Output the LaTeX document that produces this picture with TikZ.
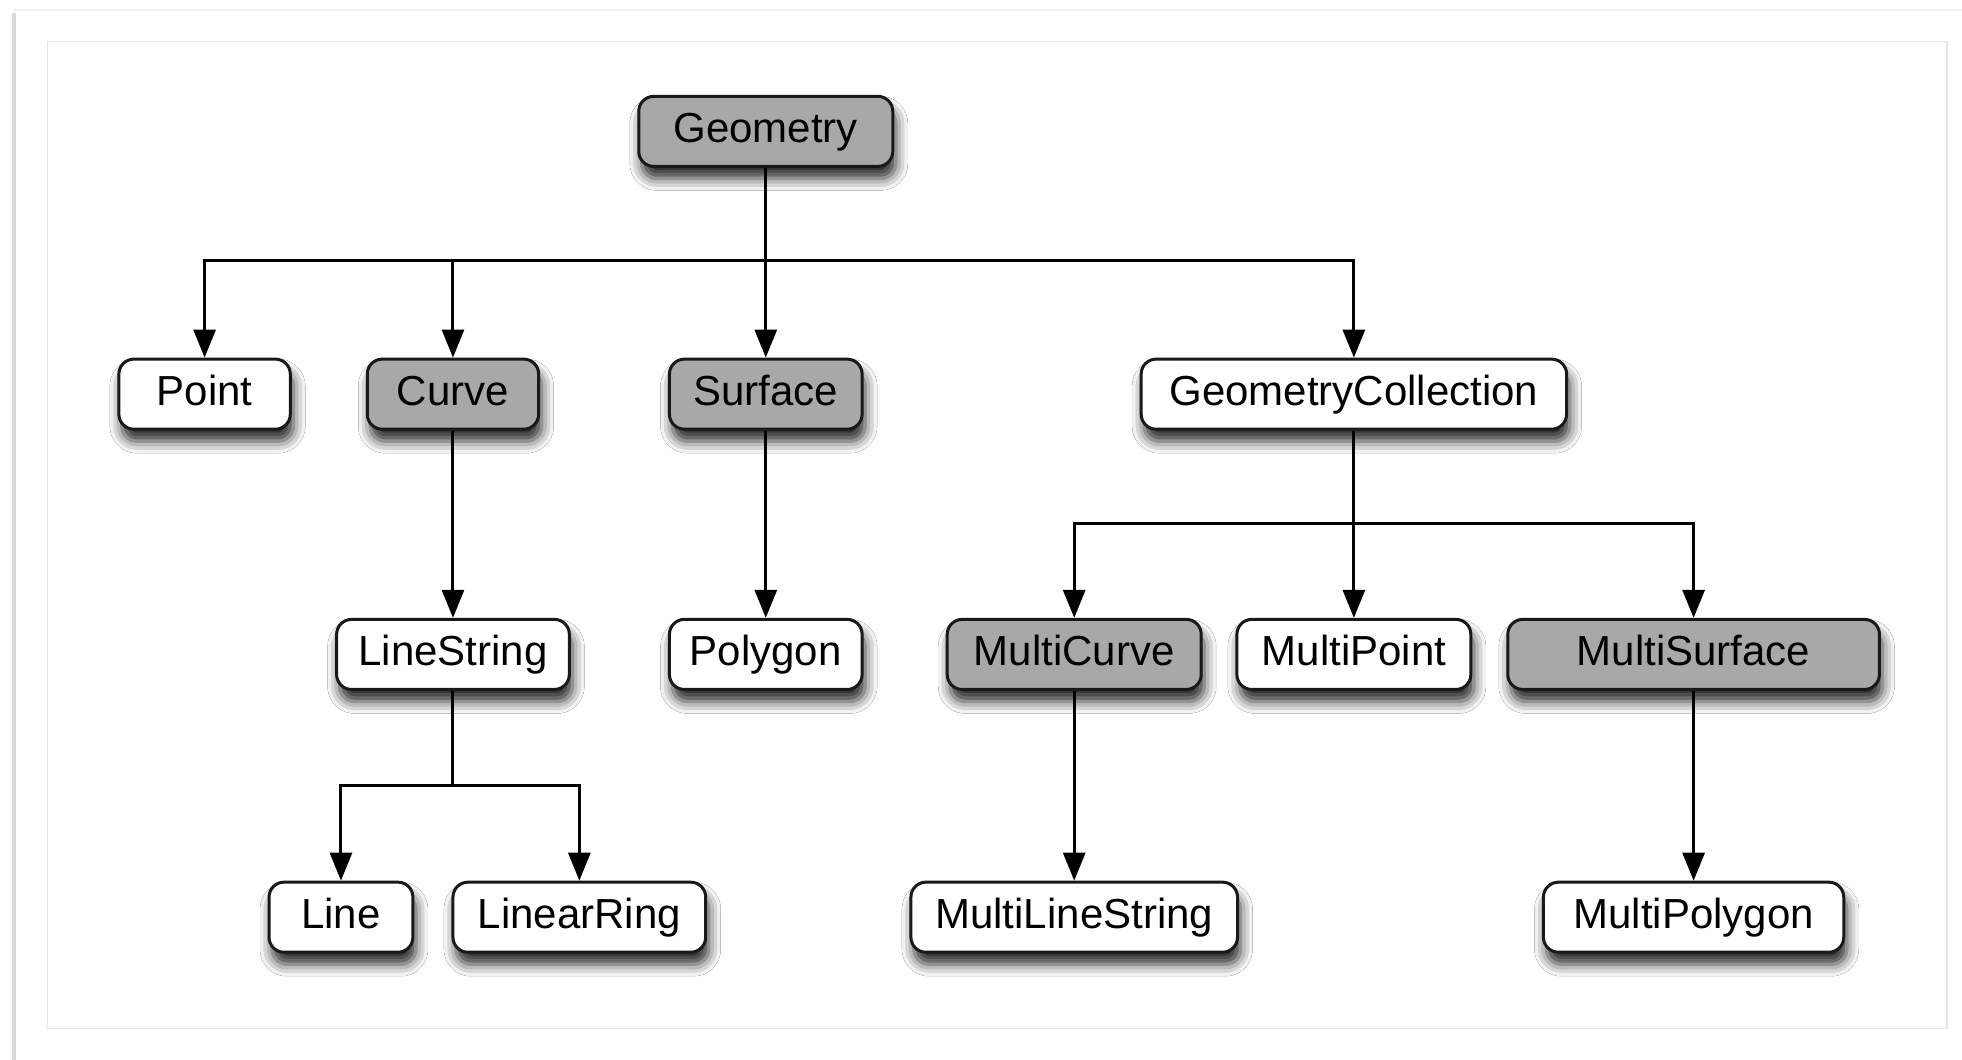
\documentclass[tikz,border=0pt]{standalone}
\usepackage{fontspec}
\setmainfont{Liberation Sans}
\usetikzlibrary{arrows.meta,shadows.blur}
\def\pxu{0.6257pt}
\definecolor{nodegray}{RGB}{168,168,168}
\definecolor{framegray}{RGB}{228,228,228}
\tikzset{
  box/.style={draw=black!90, line width=1.5pt, rounded corners=7.5pt, fill=white,
    minimum height=56*\pxu, inner sep=0pt, font=\fontsize{21}{25}\selectfont,
    text height=15pt, text depth=4pt,
    blur shadow={shadow xshift=1.5pt, shadow yshift=-6pt, shadow blur radius=6pt, shadow opacity=85}},
  gbox/.style={box, fill=nodegray},
  link/.style={line width=1.5pt, black},
  arr/.style={link, -{Triangle[width=11pt,length=14pt]}},
}
\begin{document}
\begin{tikzpicture}[x=\pxu, y=-\pxu]
\useasboundingbox (0,0) rectangle (1568,847);
\fill[white] (0,0) rectangle (1568,847);
% outer window edges
\draw[line width=3*\pxu, black!15] (11,10) -- (11,847);
\draw[line width=1.2*\pxu, black!6] (11,8) -- (1568,8);
% inner frame
\draw[line width=1.2*\pxu, framegray] (38,33) rectangle (1556,822);

% nodes
\node[gbox, minimum width=203*\pxu] (geom) at (612,105) {Geometry};

\node[box,  minimum width=137*\pxu] (point) at (163.5,315) {Point};
\node[gbox, minimum width=137*\pxu] (curve) at (362,315) {Curve};
\node[gbox, minimum width=154*\pxu] (surf) at (612,315) {Surface};
\node[box,  minimum width=340*\pxu] (gc) at (1082,315) {GeometryCollection};

\node[box,  minimum width=186*\pxu] (ls) at (362,523) {LineString};
\node[box,  minimum width=154*\pxu] (poly) at (612,523) {Polygon};
\node[gbox, minimum width=203*\pxu] (mc) at (858.5,523) {MultiCurve};
\node[box,  minimum width=187*\pxu] (mp) at (1082,523) {MultiPoint};
\node[gbox, minimum width=297*\pxu] (ms) at (1353.5,523) {MultiSurface};

\node[box,  minimum width=115*\pxu] (line) at (272.5,733) {Line};
\node[box,  minimum width=202*\pxu] (lr) at (463,733) {LinearRing};
\node[box,  minimum width=261*\pxu] (mls) at (858.5,733) {MultiLineString};
\node[box,  minimum width=240*\pxu] (mpoly) at (1353.5,733) {MultiPolygon};

% bus points
\coordinate (b1) at (612,208);
\coordinate (b2) at (1082,418);
\coordinate (b3) at (362,628);

% connectors
\draw[link] (geom.south) -- (b1);
\draw[arr] (b1) -| (point.north);
\draw[arr] (b1) -| (curve.north);
\draw[arr] (b1) -- (surf.north);
\draw[arr] (b1) -| (gc.north);

\draw[arr] (curve.south) -- (ls.north);
\draw[arr] (surf.south) -- (poly.north);

\draw[link] (gc.south) -- (b2);
\draw[arr] (b2) -| (mc.north);
\draw[arr] (b2) -- (mp.north);
\draw[arr] (b2) -| (ms.north);

\draw[link] (ls.south) -- (b3);
\draw[arr] (b3) -| (line.north);
\draw[arr] (b3) -| (lr.north);

\draw[arr] (mc.south) -- (mls.north);
\draw[arr] (ms.south) -- (mpoly.north);
\end{tikzpicture}
\end{document}
